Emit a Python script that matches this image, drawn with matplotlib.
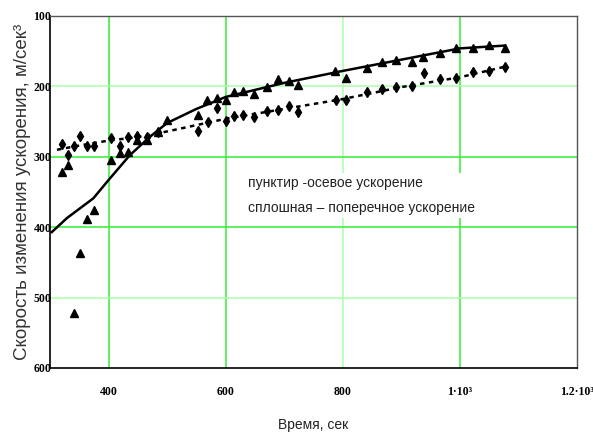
import matplotlib
matplotlib.use("Agg")
import matplotlib.pyplot as plt

# ---- data ----
tri_x = [320, 330, 341, 352, 364, 375, 405, 419, 434, 448, 466, 485, 500, 552, 568, 585, 600, 615,
         630, 648, 671, 690, 709, 724, 786, 805, 841, 867, 891, 918, 937, 966, 993, 1022, 1049, 1077]
tri_y = [322, 311, 522, 436, 389, 376, 305, 295, 293, 276, 276, 265, 248, 240, 220, 216, 220, 208,
         207, 211, 201, 190, 193, 198, 178, 188, 174, 166, 163, 165, 158, 152, 145, 146, 141, 145]

dia_x = [320, 330, 341, 352, 364, 375, 404, 419, 434, 448, 466, 485, 552, 569, 585, 600, 614, 630,
         648, 671, 690, 709, 724, 788, 806, 841, 867, 891, 918, 938, 966, 993, 1022, 1049, 1077]
dia_y = [282, 298, 285, 271, 285, 284, 273, 284, 272, 271, 272, 265, 263, 251, 231, 249, 242, 241,
         244, 235, 234, 228, 237, 219, 220, 208, 203, 201, 200, 181, 189, 188, 179, 178, 172]

solid_x = [303, 329, 374, 400, 436, 470, 500, 550, 600, 700, 800, 900, 1000, 1077]
solid_y = [407, 387, 359, 333, 298, 272, 252, 232, 215, 195, 178, 162, 146, 142]

dash_x = [312, 350, 400, 450, 500, 550, 600, 700, 800, 900, 1000, 1077]
dash_y = [290, 284, 277, 272, 264, 255, 246, 232, 218, 201, 187, 172]

x_ticks = [400, 600, 800, 1000, 1200]
x_tick_labels = ["400", "600", "800", "1·10³", "1.2·10³"]
y_ticks = [100, 200, 300, 400, 500, 600]
y_tick_labels = ["100", "200", "300", "400", "500", "600"]

TICKFONT = ["Liberation Serif", "DejaVu Serif"]
SANS = ["Liberation Sans", "DejaVu Sans"]

fig = plt.figure(figsize=(5.93, 4.32), dpi=100)
ax = fig.add_axes([50/593, 1-368/432, (577-50)/593, (368-16)/432])

ax.set_xlim(300, 1200)
ax.set_ylim(600, 100)

# grid lines
bright = "#33ee33"
light = "#aaffaa"
for xv, c in zip([400, 600, 800, 1000], [bright, bright, light, bright]):
    ax.axvline(xv, color=c, lw=1.1, zorder=0)
for yv, c in zip([200, 300, 400, 500], [light, bright, bright, light]):
    ax.axhline(yv, color=c, lw=1.1, zorder=0)

ax.plot(solid_x, solid_y, color="black", lw=1.8, zorder=3)
ax.plot(dash_x, dash_y, color="black", lw=1.8, ls=(0, (1.8, 1.8)), zorder=3)
ax.plot(tri_x, tri_y, ls="none", marker="^", ms=5.5, color="black", zorder=4)
ax.plot(dia_x, dia_y, ls="none", marker="d", ms=5.5, color="black", zorder=4)

ax.set_xticks(x_ticks)
ax.set_xticklabels(x_tick_labels, family=TICKFONT, fontweight="bold", fontsize=8.5)
ax.set_yticks(y_ticks)
ax.set_yticklabels(y_tick_labels, family=TICKFONT, fontweight="bold", fontsize=8.5)
ax.tick_params(axis="x", length=0, pad=13)
ax.tick_params(axis="y", length=0, pad=-1)

for s in ["left", "bottom"]:
    ax.spines[s].set_color("black")
    ax.spines[s].set_linewidth(1.2)
for s in ["top", "right"]:
    ax.spines[s].set_color("#555555")
    ax.spines[s].set_linewidth(1.0)

ax.set_ylabel("Скорость изменения ускорения, м/сек³", family=SANS,
              fontsize=13.5, color="#333333", labelpad=2)
ax.set_xlabel("Время, сек", family=SANS, fontsize=10, color="#222222", labelpad=14)

ax.text(638, 355, "пунктир -осевое ускорение\nсплошная – поперечное ускорение",
        family=SANS, fontsize=10, color="#222222", linespacing=2.05, va="center", ha="left",
        zorder=5, bbox=dict(facecolor="white", edgecolor="none", pad=2))

fig.savefig("out.png", dpi=100)
